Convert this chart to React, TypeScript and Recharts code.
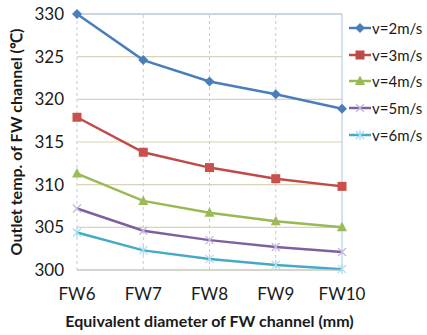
import React from 'react';
import {
  CartesianGrid,
  Line,
  LineChart,
  ReferenceLine,
  XAxis,
  YAxis
} from 'recharts';

const categories = ['FW6', 'FW7', 'FW8', 'FW9', 'FW10'];
const v2 = [330.0, 324.6, 322.1, 320.6, 318.9];
const v3 = [317.9, 313.8, 312.0, 310.7, 309.8];
const v4 = [311.3, 308.1, 306.7, 305.7, 305.0];
const v5 = [307.2, 304.6, 303.5, 302.7, 302.1];
const v6 = [304.4, 302.3, 301.3, 300.6, 300.1];
const yTicks = [300, 305, 310, 315, 320, 325, 330];

const series = [
  { key: 'v2', name: 'v=2m/s', color: '#4a7ebb', mark: '#4a7ebb', shape: 'diamond' },
  { key: 'v3', name: 'v=3m/s', color: '#be4b48', mark: '#c9504d', shape: 'square' },
  { key: 'v4', name: 'v=4m/s', color: '#98b954', mark: '#9bbb59', shape: 'triangle' },
  { key: 'v5', name: 'v=5m/s', color: '#7d60a0', mark: '#c4b5dc', shape: 'cross' },
  { key: 'v6', name: 'v=6m/s', color: '#46aac5', mark: '#a9dcec', shape: 'star' }
];

const data = categories.map((cat, i) => ({
  cat,
  v2: v2[i],
  v3: v3[i],
  v4: v4[i],
  v5: v5[i],
  v6: v6[i]
}));

const FONT = 'Lato, "Open Sans", sans-serif';

const Marker = ({ shape, color, cx, cy }: { shape: string; color: string; cx: number; cy: number }) => {
  if (shape === 'diamond') {
    return <polygon points={`${cx},${cy - 5} ${cx + 5},${cy} ${cx},${cy + 5} ${cx - 5},${cy}`} fill={color} />;
  }
  if (shape === 'square') {
    return <rect x={cx - 4.5} y={cy - 4.5} width={9} height={9} fill={color} />;
  }
  if (shape === 'triangle') {
    return <polygon points={`${cx},${cy - 5.5} ${cx + 5},${cy + 4} ${cx - 5},${cy + 4}`} fill={color} />;
  }
  if (shape === 'cross') {
    return (
      <g stroke={color} strokeWidth={1.3}>
        <line x1={cx - 4} y1={cy - 4} x2={cx + 4} y2={cy + 4} />
        <line x1={cx - 4} y1={cy + 4} x2={cx + 4} y2={cy - 4} />
      </g>
    );
  }
  return (
    <g stroke={color} strokeWidth={1.3}>
      <line x1={cx - 4} y1={cy - 4} x2={cx + 4} y2={cy + 4} />
      <line x1={cx - 4} y1={cy + 4} x2={cx + 4} y2={cy - 4} />
      <line x1={cx} y1={cy - 5} x2={cx} y2={cy + 5} />
    </g>
  );
};

const makeDot = (shape: string, color: string) => (props: any) => (
  <Marker key={`${shape}-${props.index}`} shape={shape} color={color} cx={props.cx} cy={props.cy} />
);

const LegendBox = () => (
  <div
    style={{
      position: 'absolute',
      left: 349,
      top: 15,
      width: 78,
      fontFamily: FONT,
      fontSize: 15,
      color: '#1a1a1a'
    }}
  >
    {series.map(s => (
      <div key={s.key} style={{ display: 'flex', alignItems: 'center', height: 26.6 }}>
        <svg width={22} height={14} style={{ marginRight: 1 }}>
          <line x1={0} y1={7} x2={22} y2={7} stroke={s.color} strokeWidth={2.5} />
          <Marker shape={s.shape} color={s.shape === 'cross' || s.shape === 'star' ? s.mark : s.color} cx={11} cy={7} />
        </svg>
        <span>{s.name}</span>
      </div>
    ))}
  </div>
);

const YLabel = ({ viewBox }: any) => {
  const cy = viewBox.y + viewBox.height / 2;
  return (
    <text
      x={0}
      y={0}
      transform={`translate(22, ${cy}) rotate(-90)`}
      textAnchor="middle"
      fontFamily={FONT}
      fontSize={16}
      fontWeight="bold"
      fill="#1a1a1a"
    >
      Outlet temp. of FW channel (℃)
    </text>
  );
};

export default function App() {
  return (
    <div style={{ position: 'absolute', left: 0, top: 0, width: 427, height: 335, background: '#fff' }}>
      <LineChart
        width={427}
        height={335}
        data={data}
        margin={{ top: 14, right: 85, bottom: 0, left: 0 }}
      >
        <CartesianGrid horizontal={true} vertical={false} stroke="#d8d4b6" strokeWidth={1.2} />
        {categories.slice(0, 4).map(c => (
          <ReferenceLine key={c} x={c} stroke="#b9cde6" strokeDasharray="3 3" />
        ))}
        <ReferenceLine x="FW10" stroke="#a9c4e6" />
        <ReferenceLine y={330} stroke="#a9c4e6" strokeWidth={1.2} />
        <XAxis
          dataKey="cat"
          scale="point"
          height={65}
          padding={{ left: 0, right: 0 }}
          axisLine={{ stroke: '#bfbfbf', strokeWidth: 1.2 }}
          tickLine={false}
          tickSize={0}
          tickMargin={18}
          tick={{ fontFamily: FONT, fontSize: 17, fill: '#1a1a1a' }}
          label={{
            value: 'Equivalent diameter of FW channel (mm)',
            position: 'insideBottom',
            offset: 8,
            style: { fontFamily: FONT, fontSize: 16, fontWeight: 'bold', fill: '#1a1a1a' }
          }}
        />
        <YAxis
          width={77}
          domain={[300, 330]}
          ticks={yTicks}
          axisLine={false}
          tickLine={false}
          tickSize={0}
          tickMargin={13}
          tick={{ fontFamily: FONT, fontSize: 17, fill: '#1a1a1a' }}
          label={<YLabel />}
        />
        {series.map(s => (
          <Line
            key={s.key}
            dataKey={s.key}
            name={s.name}
            stroke={s.color}
            strokeWidth={2.5}
            dot={makeDot(s.shape, s.mark)}
            activeDot={false}
            isAnimationActive={false}
          />
        ))}
      </LineChart>
      <LegendBox />
    </div>
  );
}
